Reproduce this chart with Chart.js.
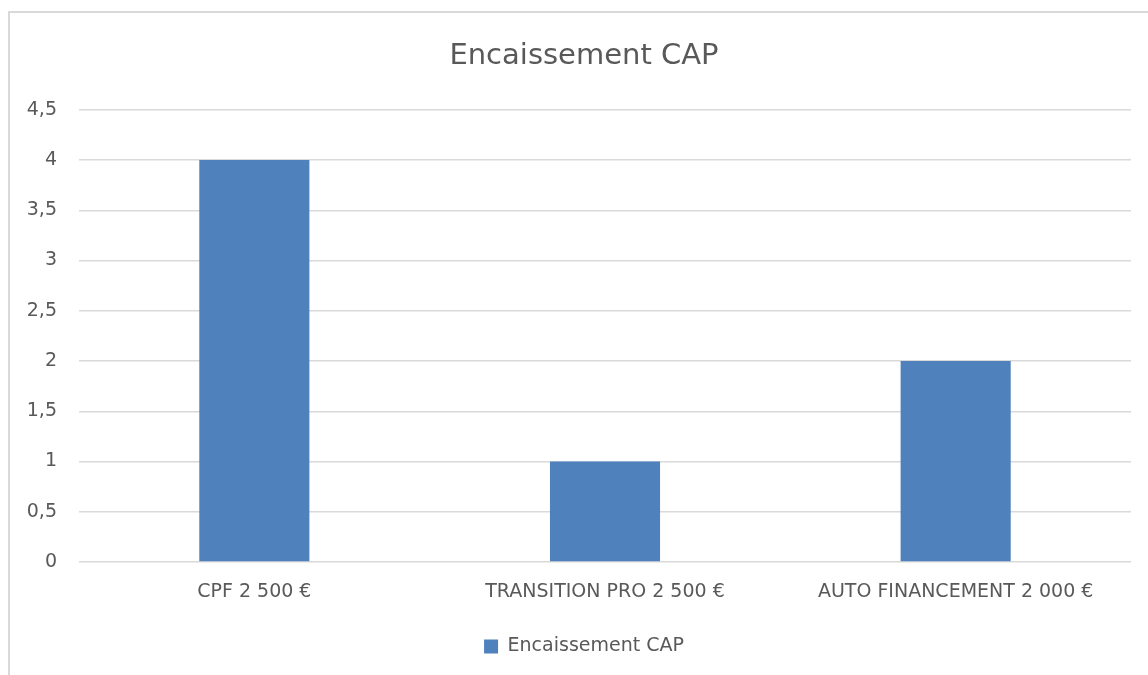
<!DOCTYPE html>
<html lang="fr">
<head>
    <meta charset="UTF-8">
    <title>Encaissement CAP</title>
    <script src="https://cdn.jsdelivr.net/npm/chart.js"></script>
    <style>
        html, body { margin: 0; padding: 0; background: #fff; }
        body { width: 1148px; height: 675px; position: relative; overflow: hidden; }
        #frame {
            position: absolute; left: 8px; top: 11px; width: 1150px; height: 680px;
            border-left: 2px solid #d9d9d9; border-top: 2px solid #d9d9d9;
        }
        /* the original chart is cut off on the right, so the canvas runs past the window */
        #wrap { position: absolute; left: 0; top: 0; width: 1185px; height: 675px; }
    </style>
</head>
<body>
    <div id="frame"></div>
    <div id="wrap"><canvas id="chart"></canvas></div>

    <script>
        // Data
        const categories = ['CPF 2 500 €', 'TRANSITION PRO 2 500 €', 'AUTO FINANCEMENT 2 000 €'];
        const values = [4, 1, 2];
        const seriesName = 'Encaissement CAP';

        const textColor = '#595959';
        const fontFamily = '"DejaVu Sans", "Open Sans", sans-serif';

        const ctx = document.getElementById('chart').getContext('2d');
        new Chart(ctx, {
            type: 'bar',
            data: {
                labels: categories,
                datasets: [{
                    label: seriesName,
                    data: values,
                    backgroundColor: '#4f81bd',
                    borderWidth: 0,
                    barPercentage: 1,
                    categoryPercentage: 0.314
                }]
            },
            options: {
                responsive: true,
                maintainAspectRatio: false,
                animation: false,
                layout: { padding: { left: 0, right: 17, top: 0, bottom: 9 } },
                plugins: {
                    title: {
                        display: true,
                        text: seriesName,
                        color: textColor,
                        font: { family: fontFamily, size: 29, weight: 'normal' },
                        padding: { top: 39, bottom: 36 }
                    },
                    legend: {
                        position: 'bottom',
                        labels: {
                            color: textColor,
                            font: { family: fontFamily, size: 19 },
                            boxWidth: 14,
                            boxHeight: 14,
                            padding: 10
                        }
                    },
                    tooltip: { enabled: false }
                },
                scales: {
                    x: {
                        grid: { display: false, drawTicks: false },
                        border: { display: false },
                        ticks: {
                            color: textColor,
                            font: { family: fontFamily, size: 19 },
                            padding: 19,
                            maxRotation: 0
                        },
                        afterFit: function(scale) { scale.height = 65; }
                    },
                    y: {
                        min: 0,
                        max: 4.5,
                        border: { display: false },
                        grid: { color: '#d9d9d9', lineWidth: 1.5, drawTicks: false },
                        ticks: {
                            stepSize: 0.5,
                            color: textColor,
                            font: { family: fontFamily, size: 19 },
                            padding: 22,
                            callback: function(v) { return String(v).replace('.', ','); }
                        },
                        afterFit: function(scale) { scale.width = 79; }
                    },
                    // empty spacer on the right, keeps title and legend centred like the original
                    yRight: {
                        position: 'right',
                        grid: { display: false, drawTicks: false },
                        border: { display: false },
                        ticks: { display: false },
                        afterFit: function(scale) { scale.width = 37; }
                    }
                }
            }
        });
    </script>
</body>
</html>
